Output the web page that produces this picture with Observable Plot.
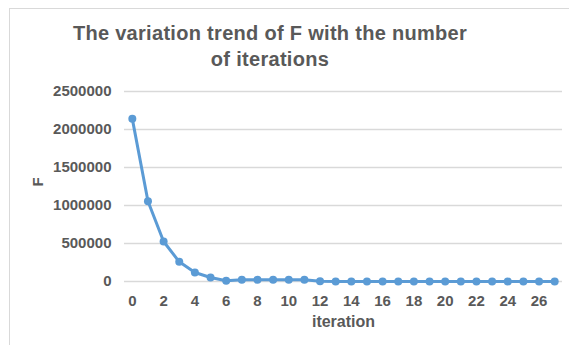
<!DOCTYPE html>
<html>
<head>
<meta charset="utf-8">
<script src="https://cdn.jsdelivr.net/npm/d3@7"></script>
<script src="https://cdn.jsdelivr.net/npm/@observablehq/plot@0.6"></script>
<style>
  html, body { margin: 0; padding: 0; background: #fff; }
  #wrap { position: relative; width: 569px; height: 345px; overflow: hidden; font-family: "Liberation Sans", Arial, sans-serif; }
  #frame { position: absolute; left: 9px; top: 8px; width: 580px; height: 360px; border-left: 1.5px solid #d9d9d9; border-top: 1.5px solid #d9d9d9; }
  #title { position: absolute; left: 0; top: 20px; width: 540px; text-align: center; font-size: 20px; letter-spacing: 0.3px; font-weight: bold; line-height: 26px; color: #595959; }
  #chart { position: absolute; left: 0; top: 78px; }
</style>
</head>
<body>
<div id="wrap">
  <div id="frame"></div>
  <div id="title">The variation trend of F with the number<br>of iterations</div>
  <div id="chart"></div>
</div>
<script>
const iterations = [0,1,2,3,4,5,6,7,8,9,10,11,12,13,14,15,16,17,18,19,20,21,22,23,24,25,26,27];
const F = [2140000,1057000,526000,259000,118000,53000,9000,22000,22000,22000,22000,22000,4000,0,0,0,0,0,0,0,0,0,0,0,0,0,0,0];
const xTicks = [0,2,4,6,8,10,12,14,16,18,20,22,24,26];
const yTicks = [0,500000,1000000,1500000,2000000,2500000];
const xLabel = "iteration";
const yLabel = "F";

const data = iterations.map((it, i) => ({iteration: it, F: F[i]}));
const grey = "#595959";

const chart = Plot.plot({
  width: 569,
  height: 267,
  marginLeft: 124,
  marginRight: 7,
  marginTop: 13,
  marginBottom: 64,
  style: { fontFamily: "'Liberation Sans', Arial, sans-serif", fontSize: "15px", fontWeight: "bold", color: grey, background: "transparent" },
  x: { domain: [-0.5, 27.5] },
  y: { domain: [0, 2500000] },
  marks: [
    Plot.gridY(yTicks, { stroke: "#d9d9d9", strokeOpacity: 1, strokeWidth: 1.5 }),
    Plot.axisY(yTicks, { tickSize: 0, tickPadding: 13, tickFormat: d => String(d), label: null, fill: grey, fontSize: 15 }),
    Plot.axisX(xTicks, { tickSize: 0, tickPadding: 14, tickFormat: d => String(d), label: null, fill: grey, fontSize: 15 }),
    Plot.text([yLabel], { text: d => d, frameAnchor: "left", lineAnchor: "middle", dx: -86, rotate: -90, fill: grey, fontSize: 15, fontWeight: "bold" }),
    Plot.text([xLabel], { text: d => d, frameAnchor: "bottom", lineAnchor: "middle", dy: 40, fill: grey, fontSize: 16, fontWeight: "bold" }),
    Plot.line(data, { x: "iteration", y: "F", stroke: "#5b9bd5", strokeWidth: 3, curve: "linear" }),
    Plot.dot(data, { x: "iteration", y: "F", r: 4, fill: "#5b9bd5", stroke: "none" })
  ]
});
document.getElementById("chart").appendChild(chart);
</script>
</body>
</html>
